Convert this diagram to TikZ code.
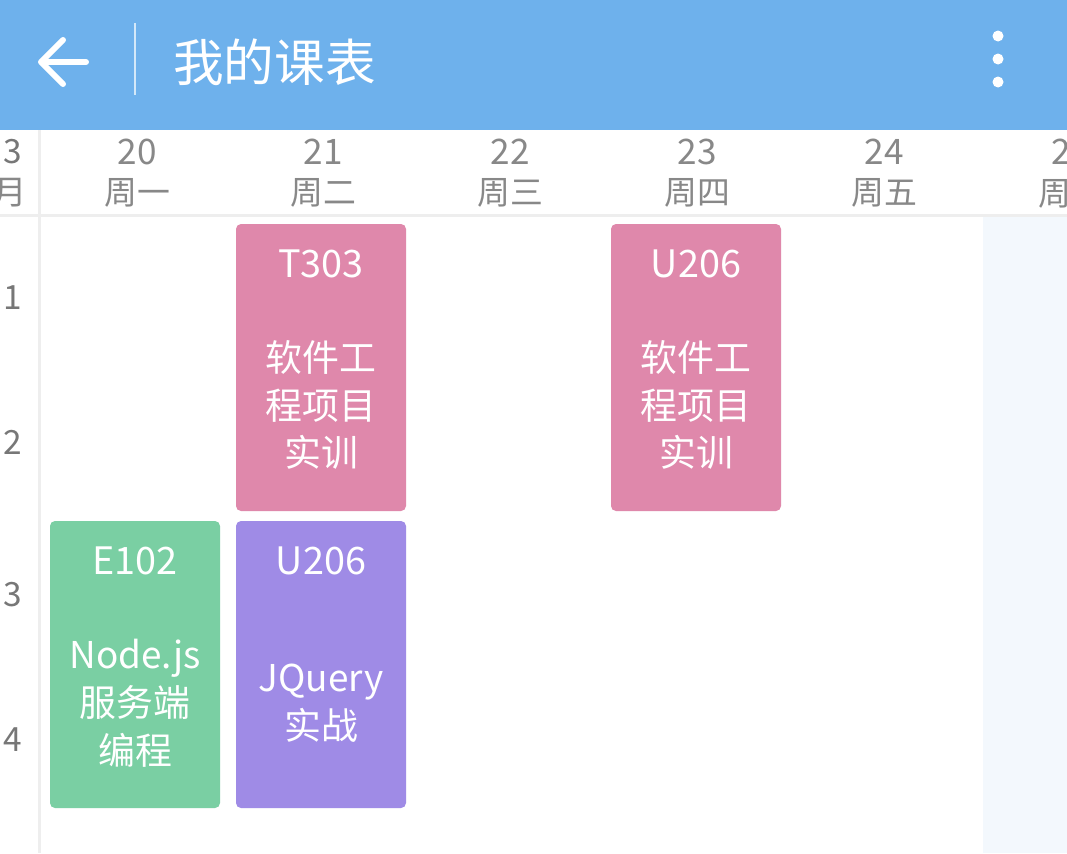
\documentclass[tikz,border=0pt]{standalone}
\usepackage{fontspec}
\setmainfont{Noto Sans CJK SC}
\definecolor{barblue}{HTML}{6EB1EC}
\definecolor{pinkc}{HTML}{DF88AB}
\definecolor{greenc}{HTML}{7ACFA3}
\definecolor{purplec}{HTML}{9F8BE6}
\definecolor{gridgray}{HTML}{EEEEEE}
\definecolor{txtgray}{HTML}{888888}
\definecolor{numgray}{HTML}{777777}
\definecolor{paleblue}{HTML}{F3F8FD}
\tikzset{
  card/.style={rounded corners=0.1cm},
  roomlbl/.style={text=white, font=\fontsize{21.5pt}{26pt}\selectfont, inner sep=0pt},
  courselbl/.style={text=white, align=center, font=\fontsize{21pt}{27.2pt}\selectfont, inner sep=0pt},
  daynum/.style={text=txtgray, font=\fontsize{20pt}{22pt}\selectfont, inner sep=0pt},
  dayname/.style={text=txtgray, font=\fontsize{18.7pt}{22pt}\selectfont, inner sep=0pt},
  rownum/.style={text=numgray, font=\fontsize{19pt}{22pt}\selectfont, inner sep=0pt},
}
\begin{document}
\begin{tikzpicture}[x=0.02cm,y=-0.02cm]
\useasboundingbox (0,0) rectangle (1067,853);
\fill[white] (0,0) rectangle (1067,853);
% top bar
\fill[barblue] (0,0) rectangle (1067,130);
\draw[white, line width=0.12cm, line cap=round, line join=round] (86,62) -- (43,62);
\draw[white, line width=0.12cm, line cap=round, line join=round] (63,40) -- (41,62) -- (63,84);
\draw[white!70!barblue, line width=0.03cm] (135,23) -- (135,95);
\node[text=white, font=\fontsize{28.8pt}{32pt}\selectfont, inner sep=0pt, anchor=west] (title) at (173,62) {我的课表};
\fill[white] (998,36) circle (5.5);
\fill[white] (998,59) circle (5.5);
\fill[white] (998,82) circle (5.5);
% pale right area
\fill[paleblue] (983,217) rectangle (1067,853);
% grid lines
\draw[gridgray, line width=0.06cm] (0,215.5) -- (1067,215.5);
\draw[gridgray, line width=0.06cm] (39.5,130) -- (39.5,853);
% header
\node[rownum] (m3) at (13,152) {3};
\node[rownum, text=txtgray] (m) at (10,193) {月};
\node[daynum] (d20) at (137,152) {20};
\node[dayname] (w1) at (137,193) {周一};
\node[daynum] (d21) at (323,152) {21};
\node[dayname] (w2) at (323,193) {周二};
\node[daynum] (d22) at (510,152) {22};
\node[dayname] (w3) at (510,193) {周三};
\node[daynum] (d23) at (697,152) {23};
\node[dayname] (w4) at (697,193) {周四};
\node[daynum] (d24) at (884,152) {24};
\node[dayname] (w5) at (884,193) {周五};
\node[daynum] (d25) at (1071,152) {25};
\node[dayname] (w6) at (1071,193) {周六};
% row numbers
\node[rownum] (r1) at (13,298) {1};
\node[rownum] (r2) at (13,442) {2};
\node[rownum] (r3) at (13,595) {3};
\node[rownum] (r4) at (13,740) {4};
% cards
\fill[pinkc, card] (236,224) rectangle (406,511);
\node[roomlbl] (c1room) at (321,264) {T303};
\node[courselbl] (c1name) at (321,405) {软件工\\程项目\\实训};
\fill[pinkc, card] (611,224) rectangle (781,511);
\node[roomlbl] (c2room) at (696,264) {U206};
\node[courselbl] (c2name) at (696,405) {软件工\\程项目\\实训};
\fill[greenc, card] (50,521) rectangle (220,808);
\node[roomlbl] (c3room) at (135,561) {E102};
\node[courselbl] (c3name) at (135,703) {Node.js\\服务端\\编程};
\fill[purplec, card] (236,521) rectangle (406,808);
\node[roomlbl] (c4room) at (321,561) {U206};
\node[courselbl] (c4name) at (321,703) {JQuery\\实战};
\end{tikzpicture}
\end{document}
